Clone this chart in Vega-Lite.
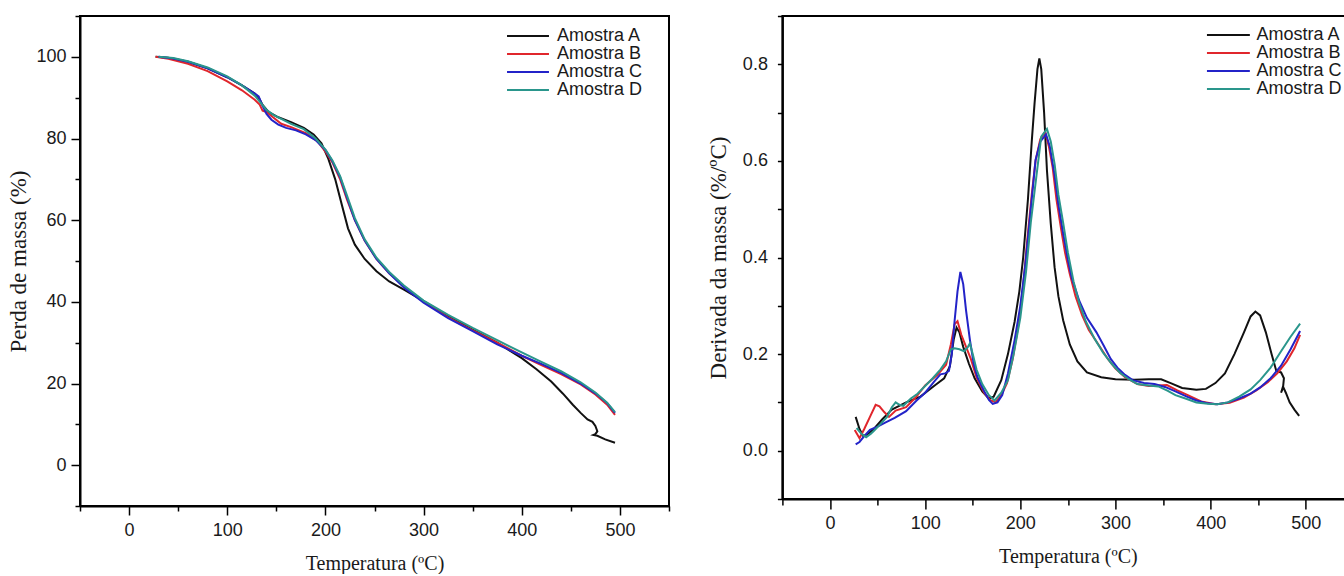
{
"$schema": "https://vega.github.io/schema/vega-lite/v6.json",
"background": "white",
"padding": {"left": 6, "top": 14, "right": -5, "bottom": 0},
"config": {
  "view": {"stroke": "black", "strokeWidth": 2},
  "axis": {"grid": false, "domainColor": "black", "domainWidth": 2, "tickColor": "black", "tickWidth": 1.5,
    "labelFont": "Liberation Sans", "labelFontSize": 18, "labelColor": "#1a1a1a",
    "titleFont": "Liberation Serif", "titleFontWeight": "normal", "titleColor": "#1a1a1a"},
  "legend": {"titleFontSize": 0}
},
"datasets": {
"tg": [
{"s":"Amostra A","i":0,"t":27,"m":100},{"s":"Amostra A","i":1,"t":40,"m":99.8},{"s":"Amostra A","i":2,"t":60,"m":98.8},{"s":"Amostra A","i":3,"t":80,"m":97.2},{"s":"Amostra A","i":4,"t":100,"m":95},{"s":"Amostra A","i":5,"t":115,"m":93},{"s":"Amostra A","i":6,"t":128,"m":91},{"s":"Amostra A","i":7,"t":132,"m":90},{"s":"Amostra A","i":8,"t":136,"m":88.2},{"s":"Amostra A","i":9,"t":142,"m":86.5},{"s":"Amostra A","i":10,"t":152,"m":85.2},{"s":"Amostra A","i":11,"t":165,"m":84},{"s":"Amostra A","i":12,"t":178,"m":82.6},{"s":"Amostra A","i":13,"t":188,"m":81},{"s":"Amostra A","i":14,"t":196,"m":78.8},{"s":"Amostra A","i":15,"t":203,"m":75},{"s":"Amostra A","i":16,"t":210,"m":70},{"s":"Amostra A","i":17,"t":217,"m":63.5},{"s":"Amostra A","i":18,"t":223,"m":58},{"s":"Amostra A","i":19,"t":230,"m":54},{"s":"Amostra A","i":20,"t":240,"m":50.5},{"s":"Amostra A","i":21,"t":252,"m":47.5},{"s":"Amostra A","i":22,"t":265,"m":45},{"s":"Amostra A","i":23,"t":280,"m":43},{"s":"Amostra A","i":24,"t":300,"m":40.2},{"s":"Amostra A","i":25,"t":325,"m":36.5},{"s":"Amostra A","i":26,"t":350,"m":33.2},{"s":"Amostra A","i":27,"t":375,"m":30},{"s":"Amostra A","i":28,"t":400,"m":26.2},{"s":"Amostra A","i":29,"t":415,"m":23.5},{"s":"Amostra A","i":30,"t":430,"m":20.5},{"s":"Amostra A","i":31,"t":442,"m":17.5},{"s":"Amostra A","i":32,"t":452,"m":14.8},{"s":"Amostra A","i":33,"t":460,"m":12.8},{"s":"Amostra A","i":34,"t":467,"m":11.2},{"s":"Amostra A","i":35,"t":472,"m":10.6},{"s":"Amostra A","i":36,"t":475,"m":9.6},{"s":"Amostra A","i":37,"t":477,"m":8.3},{"s":"Amostra A","i":38,"t":475,"m":7.6},{"s":"Amostra A","i":39,"t":473,"m":7.4},{"s":"Amostra A","i":40,"t":477,"m":7.2},{"s":"Amostra A","i":41,"t":485,"m":6.3},{"s":"Amostra A","i":42,"t":495,"m":5.5},
{"s":"Amostra B","i":0,"t":27,"m":100},{"s":"Amostra B","i":1,"t":40,"m":99.5},{"s":"Amostra B","i":2,"t":60,"m":98.3},{"s":"Amostra B","i":3,"t":80,"m":96.5},{"s":"Amostra B","i":4,"t":100,"m":94},{"s":"Amostra B","i":5,"t":115,"m":91.8},{"s":"Amostra B","i":6,"t":128,"m":89.5},{"s":"Amostra B","i":7,"t":133,"m":88.3},{"s":"Amostra B","i":8,"t":136,"m":86.8},{"s":"Amostra B","i":9,"t":140,"m":86.5},{"s":"Amostra B","i":10,"t":145,"m":85.5},{"s":"Amostra B","i":11,"t":155,"m":83.6},{"s":"Amostra B","i":12,"t":165,"m":82.8},{"s":"Amostra B","i":13,"t":180,"m":81.3},{"s":"Amostra B","i":14,"t":192,"m":79.3},{"s":"Amostra B","i":15,"t":200,"m":76.8},{"s":"Amostra B","i":16,"t":207,"m":74.2},{"s":"Amostra B","i":17,"t":215,"m":70},{"s":"Amostra B","i":18,"t":222,"m":65},{"s":"Amostra B","i":19,"t":230,"m":60},{"s":"Amostra B","i":20,"t":240,"m":55},{"s":"Amostra B","i":21,"t":252,"m":50.5},{"s":"Amostra B","i":22,"t":265,"m":47},{"s":"Amostra B","i":23,"t":280,"m":43.8},{"s":"Amostra B","i":24,"t":300,"m":40},{"s":"Amostra B","i":25,"t":325,"m":36.2},{"s":"Amostra B","i":26,"t":350,"m":33},{"s":"Amostra B","i":27,"t":375,"m":30},{"s":"Amostra B","i":28,"t":400,"m":26.8},{"s":"Amostra B","i":29,"t":420,"m":24.5},{"s":"Amostra B","i":30,"t":440,"m":22.3},{"s":"Amostra B","i":31,"t":460,"m":19.8},{"s":"Amostra B","i":32,"t":475,"m":17.3},{"s":"Amostra B","i":33,"t":487,"m":14.8},{"s":"Amostra B","i":34,"t":495,"m":12.3},
{"s":"Amostra C","i":0,"t":30,"m":100},{"s":"Amostra C","i":1,"t":45,"m":99.6},{"s":"Amostra C","i":2,"t":60,"m":98.8},{"s":"Amostra C","i":3,"t":80,"m":97.2},{"s":"Amostra C","i":4,"t":100,"m":95},{"s":"Amostra C","i":5,"t":115,"m":93},{"s":"Amostra C","i":6,"t":128,"m":91},{"s":"Amostra C","i":7,"t":132,"m":90.3},{"s":"Amostra C","i":8,"t":136,"m":88},{"s":"Amostra C","i":9,"t":140,"m":86},{"s":"Amostra C","i":10,"t":145,"m":84.6},{"s":"Amostra C","i":11,"t":152,"m":83.4},{"s":"Amostra C","i":12,"t":160,"m":82.6},{"s":"Amostra C","i":13,"t":170,"m":82},{"s":"Amostra C","i":14,"t":180,"m":81},{"s":"Amostra C","i":15,"t":190,"m":79.6},{"s":"Amostra C","i":16,"t":200,"m":77.2},{"s":"Amostra C","i":17,"t":207,"m":74.5},{"s":"Amostra C","i":18,"t":215,"m":70.5},{"s":"Amostra C","i":19,"t":222,"m":65.5},{"s":"Amostra C","i":20,"t":230,"m":60},{"s":"Amostra C","i":21,"t":240,"m":55},{"s":"Amostra C","i":22,"t":252,"m":50.5},{"s":"Amostra C","i":23,"t":265,"m":47},{"s":"Amostra C","i":24,"t":280,"m":43.5},{"s":"Amostra C","i":25,"t":300,"m":39.8},{"s":"Amostra C","i":26,"t":325,"m":36},{"s":"Amostra C","i":27,"t":350,"m":32.8},{"s":"Amostra C","i":28,"t":375,"m":29.6},{"s":"Amostra C","i":29,"t":400,"m":26.8},{"s":"Amostra C","i":30,"t":420,"m":24.8},{"s":"Amostra C","i":31,"t":440,"m":22.6},{"s":"Amostra C","i":32,"t":460,"m":20},{"s":"Amostra C","i":33,"t":475,"m":17.6},{"s":"Amostra C","i":34,"t":487,"m":15.2},{"s":"Amostra C","i":35,"t":495,"m":12.8},
{"s":"Amostra D","i":0,"t":30,"m":100},{"s":"Amostra D","i":1,"t":45,"m":99.7},{"s":"Amostra D","i":2,"t":60,"m":98.9},{"s":"Amostra D","i":3,"t":80,"m":97.4},{"s":"Amostra D","i":4,"t":100,"m":95.2},{"s":"Amostra D","i":5,"t":115,"m":93},{"s":"Amostra D","i":6,"t":128,"m":90.5},{"s":"Amostra D","i":7,"t":135,"m":88.5},{"s":"Amostra D","i":8,"t":140,"m":87},{"s":"Amostra D","i":9,"t":147,"m":85.8},{"s":"Amostra D","i":10,"t":155,"m":84.8},{"s":"Amostra D","i":11,"t":165,"m":83.6},{"s":"Amostra D","i":12,"t":178,"m":82.3},{"s":"Amostra D","i":13,"t":190,"m":80},{"s":"Amostra D","i":14,"t":200,"m":77.3},{"s":"Amostra D","i":15,"t":207,"m":74.7},{"s":"Amostra D","i":16,"t":215,"m":70.8},{"s":"Amostra D","i":17,"t":222,"m":66},{"s":"Amostra D","i":18,"t":230,"m":60.5},{"s":"Amostra D","i":19,"t":240,"m":55.3},{"s":"Amostra D","i":20,"t":252,"m":50.8},{"s":"Amostra D","i":21,"t":265,"m":47.3},{"s":"Amostra D","i":22,"t":280,"m":44},{"s":"Amostra D","i":23,"t":300,"m":40.3},{"s":"Amostra D","i":24,"t":325,"m":36.8},{"s":"Amostra D","i":25,"t":350,"m":33.6},{"s":"Amostra D","i":26,"t":375,"m":30.6},{"s":"Amostra D","i":27,"t":400,"m":27.6},{"s":"Amostra D","i":28,"t":420,"m":25.3},{"s":"Amostra D","i":29,"t":440,"m":23},{"s":"Amostra D","i":30,"t":460,"m":20.3},{"s":"Amostra D","i":31,"t":475,"m":17.8},{"s":"Amostra D","i":32,"t":487,"m":15.3},{"s":"Amostra D","i":33,"t":495,"m":13}
],
"dtg": [
{"s":"Amostra A","i":0,"t":27,"d":0.07},{"s":"Amostra A","i":1,"t":31,"d":0.045},{"s":"Amostra A","i":2,"t":35,"d":0.03},{"s":"Amostra A","i":3,"t":40,"d":0.035},{"s":"Amostra A","i":4,"t":47,"d":0.047},{"s":"Amostra A","i":5,"t":55,"d":0.065},{"s":"Amostra A","i":6,"t":65,"d":0.085},{"s":"Amostra A","i":7,"t":80,"d":0.1},{"s":"Amostra A","i":8,"t":95,"d":0.112},{"s":"Amostra A","i":9,"t":110,"d":0.135},{"s":"Amostra A","i":10,"t":120,"d":0.15},{"s":"Amostra A","i":11,"t":126,"d":0.175},{"s":"Amostra A","i":12,"t":130,"d":0.23},{"s":"Amostra A","i":13,"t":133,"d":0.255},{"s":"Amostra A","i":14,"t":136,"d":0.245},{"s":"Amostra A","i":15,"t":140,"d":0.215},{"s":"Amostra A","i":16,"t":146,"d":0.18},{"s":"Amostra A","i":17,"t":152,"d":0.15},{"s":"Amostra A","i":18,"t":160,"d":0.123},{"s":"Amostra A","i":19,"t":167,"d":0.108},{"s":"Amostra A","i":20,"t":172,"d":0.112},{"s":"Amostra A","i":21,"t":180,"d":0.146},{"s":"Amostra A","i":22,"t":187,"d":0.2},{"s":"Amostra A","i":23,"t":194,"d":0.267},{"s":"Amostra A","i":24,"t":199,"d":0.33},{"s":"Amostra A","i":25,"t":203,"d":0.4},{"s":"Amostra A","i":26,"t":208,"d":0.52},{"s":"Amostra A","i":27,"t":212,"d":0.64},{"s":"Amostra A","i":28,"t":215,"d":0.72},{"s":"Amostra A","i":29,"t":218,"d":0.79},{"s":"Amostra A","i":30,"t":220,"d":0.812},{"s":"Amostra A","i":31,"t":222,"d":0.79},{"s":"Amostra A","i":32,"t":225,"d":0.7},{"s":"Amostra A","i":33,"t":228,"d":0.58},{"s":"Amostra A","i":34,"t":232,"d":0.47},{"s":"Amostra A","i":35,"t":236,"d":0.38},{"s":"Amostra A","i":36,"t":240,"d":0.32},{"s":"Amostra A","i":37,"t":245,"d":0.27},{"s":"Amostra A","i":38,"t":252,"d":0.22},{"s":"Amostra A","i":39,"t":260,"d":0.185},{"s":"Amostra A","i":40,"t":270,"d":0.162},{"s":"Amostra A","i":41,"t":285,"d":0.152},{"s":"Amostra A","i":42,"t":300,"d":0.148},{"s":"Amostra A","i":43,"t":320,"d":0.147},{"s":"Amostra A","i":44,"t":335,"d":0.148},{"s":"Amostra A","i":45,"t":348,"d":0.148},{"s":"Amostra A","i":46,"t":358,"d":0.14},{"s":"Amostra A","i":47,"t":370,"d":0.13},{"s":"Amostra A","i":48,"t":385,"d":0.126},{"s":"Amostra A","i":49,"t":395,"d":0.128},{"s":"Amostra A","i":50,"t":405,"d":0.14},{"s":"Amostra A","i":51,"t":415,"d":0.16},{"s":"Amostra A","i":52,"t":425,"d":0.2},{"s":"Amostra A","i":53,"t":435,"d":0.245},{"s":"Amostra A","i":54,"t":442,"d":0.278},{"s":"Amostra A","i":55,"t":447,"d":0.288},{"s":"Amostra A","i":56,"t":452,"d":0.28},{"s":"Amostra A","i":57,"t":458,"d":0.245},{"s":"Amostra A","i":58,"t":464,"d":0.2},{"s":"Amostra A","i":59,"t":469,"d":0.165},{"s":"Amostra A","i":60,"t":474,"d":0.162},{"s":"Amostra A","i":61,"t":477,"d":0.15},{"s":"Amostra A","i":62,"t":476,"d":0.13},{"s":"Amostra A","i":63,"t":474,"d":0.12},{"s":"Amostra A","i":64,"t":476,"d":0.133},{"s":"Amostra A","i":65,"t":479,"d":0.12},{"s":"Amostra A","i":66,"t":483,"d":0.1},{"s":"Amostra A","i":67,"t":488,"d":0.085},{"s":"Amostra A","i":68,"t":493,"d":0.072},
{"s":"Amostra B","i":0,"t":26,"d":0.043},{"s":"Amostra B","i":1,"t":31,"d":0.026},{"s":"Amostra B","i":2,"t":36,"d":0.045},{"s":"Amostra B","i":3,"t":42,"d":0.07},{"s":"Amostra B","i":4,"t":48,"d":0.095},{"s":"Amostra B","i":5,"t":52,"d":0.092},{"s":"Amostra B","i":6,"t":57,"d":0.08},{"s":"Amostra B","i":7,"t":62,"d":0.07},{"s":"Amostra B","i":8,"t":69,"d":0.083},{"s":"Amostra B","i":9,"t":80,"d":0.09},{"s":"Amostra B","i":10,"t":90,"d":0.11},{"s":"Amostra B","i":11,"t":100,"d":0.135},{"s":"Amostra B","i":12,"t":113,"d":0.157},{"s":"Amostra B","i":13,"t":122,"d":0.178},{"s":"Amostra B","i":14,"t":127,"d":0.22},{"s":"Amostra B","i":15,"t":131,"d":0.262},{"s":"Amostra B","i":16,"t":134,"d":0.268},{"s":"Amostra B","i":17,"t":138,"d":0.24},{"s":"Amostra B","i":18,"t":143,"d":0.215},{"s":"Amostra B","i":19,"t":148,"d":0.19},{"s":"Amostra B","i":20,"t":154,"d":0.152},{"s":"Amostra B","i":21,"t":162,"d":0.12},{"s":"Amostra B","i":22,"t":168,"d":0.105},{"s":"Amostra B","i":23,"t":174,"d":0.1},{"s":"Amostra B","i":24,"t":180,"d":0.115},{"s":"Amostra B","i":25,"t":186,"d":0.14},{"s":"Amostra B","i":26,"t":192,"d":0.19},{"s":"Amostra B","i":27,"t":198,"d":0.26},{"s":"Amostra B","i":28,"t":203,"d":0.34},{"s":"Amostra B","i":29,"t":207,"d":0.43},{"s":"Amostra B","i":30,"t":212,"d":0.53},{"s":"Amostra B","i":31,"t":216,"d":0.6},{"s":"Amostra B","i":32,"t":221,"d":0.645},{"s":"Amostra B","i":33,"t":226,"d":0.66},{"s":"Amostra B","i":34,"t":230,"d":0.63},{"s":"Amostra B","i":35,"t":234,"d":0.586},{"s":"Amostra B","i":36,"t":238,"d":0.52},{"s":"Amostra B","i":37,"t":243,"d":0.457},{"s":"Amostra B","i":38,"t":247,"d":0.41},{"s":"Amostra B","i":39,"t":252,"d":0.366},{"s":"Amostra B","i":40,"t":258,"d":0.32},{"s":"Amostra B","i":41,"t":265,"d":0.28},{"s":"Amostra B","i":42,"t":272,"d":0.25},{"s":"Amostra B","i":43,"t":280,"d":0.226},{"s":"Amostra B","i":44,"t":292,"d":0.19},{"s":"Amostra B","i":45,"t":300,"d":0.17},{"s":"Amostra B","i":46,"t":310,"d":0.152},{"s":"Amostra B","i":47,"t":323,"d":0.138},{"s":"Amostra B","i":48,"t":335,"d":0.134},{"s":"Amostra B","i":49,"t":345,"d":0.135},{"s":"Amostra B","i":50,"t":354,"d":0.136},{"s":"Amostra B","i":51,"t":365,"d":0.125},{"s":"Amostra B","i":52,"t":376,"d":0.115},{"s":"Amostra B","i":53,"t":390,"d":0.102},{"s":"Amostra B","i":54,"t":405,"d":0.096},{"s":"Amostra B","i":55,"t":420,"d":0.099},{"s":"Amostra B","i":56,"t":435,"d":0.11},{"s":"Amostra B","i":57,"t":448,"d":0.125},{"s":"Amostra B","i":58,"t":460,"d":0.142},{"s":"Amostra B","i":59,"t":470,"d":0.16},{"s":"Amostra B","i":60,"t":480,"d":0.185},{"s":"Amostra B","i":61,"t":488,"d":0.212},{"s":"Amostra B","i":62,"t":494,"d":0.24},
{"s":"Amostra C","i":0,"t":27,"d":0.013},{"s":"Amostra C","i":1,"t":31,"d":0.018},{"s":"Amostra C","i":2,"t":36,"d":0.03},{"s":"Amostra C","i":3,"t":42,"d":0.043},{"s":"Amostra C","i":4,"t":50,"d":0.05},{"s":"Amostra C","i":5,"t":58,"d":0.058},{"s":"Amostra C","i":6,"t":68,"d":0.068},{"s":"Amostra C","i":7,"t":80,"d":0.082},{"s":"Amostra C","i":8,"t":91,"d":0.104},{"s":"Amostra C","i":9,"t":100,"d":0.12},{"s":"Amostra C","i":10,"t":109,"d":0.142},{"s":"Amostra C","i":11,"t":116,"d":0.158},{"s":"Amostra C","i":12,"t":121,"d":0.16},{"s":"Amostra C","i":13,"t":125,"d":0.165},{"s":"Amostra C","i":14,"t":128,"d":0.2},{"s":"Amostra C","i":15,"t":131,"d":0.27},{"s":"Amostra C","i":16,"t":134,"d":0.33},{"s":"Amostra C","i":17,"t":137,"d":0.37},{"s":"Amostra C","i":18,"t":140,"d":0.345},{"s":"Amostra C","i":19,"t":143,"d":0.29},{"s":"Amostra C","i":20,"t":147,"d":0.23},{"s":"Amostra C","i":21,"t":151,"d":0.18},{"s":"Amostra C","i":22,"t":155,"d":0.152},{"s":"Amostra C","i":23,"t":162,"d":0.123},{"s":"Amostra C","i":24,"t":167,"d":0.105},{"s":"Amostra C","i":25,"t":171,"d":0.097},{"s":"Amostra C","i":26,"t":176,"d":0.1},{"s":"Amostra C","i":27,"t":181,"d":0.115},{"s":"Amostra C","i":28,"t":187,"d":0.16},{"s":"Amostra C","i":29,"t":194,"d":0.229},{"s":"Amostra C","i":30,"t":200,"d":0.3},{"s":"Amostra C","i":31,"t":205,"d":0.381},{"s":"Amostra C","i":32,"t":210,"d":0.48},{"s":"Amostra C","i":33,"t":216,"d":0.602},{"s":"Amostra C","i":34,"t":221,"d":0.64},{"s":"Amostra C","i":35,"t":227,"d":0.655},{"s":"Amostra C","i":36,"t":231,"d":0.63},{"s":"Amostra C","i":37,"t":236,"d":0.571},{"s":"Amostra C","i":38,"t":240,"d":0.51},{"s":"Amostra C","i":39,"t":245,"d":0.45},{"s":"Amostra C","i":40,"t":250,"d":0.395},{"s":"Amostra C","i":41,"t":254,"d":0.358},{"s":"Amostra C","i":42,"t":262,"d":0.31},{"s":"Amostra C","i":43,"t":270,"d":0.275},{"s":"Amostra C","i":44,"t":280,"d":0.245},{"s":"Amostra C","i":45,"t":287,"d":0.22},{"s":"Amostra C","i":46,"t":295,"d":0.19},{"s":"Amostra C","i":47,"t":302,"d":0.172},{"s":"Amostra C","i":48,"t":310,"d":0.157},{"s":"Amostra C","i":49,"t":318,"d":0.146},{"s":"Amostra C","i":50,"t":330,"d":0.14},{"s":"Amostra C","i":51,"t":341,"d":0.138},{"s":"Amostra C","i":52,"t":352,"d":0.132},{"s":"Amostra C","i":53,"t":363,"d":0.123},{"s":"Amostra C","i":54,"t":375,"d":0.112},{"s":"Amostra C","i":55,"t":385,"d":0.104},{"s":"Amostra C","i":56,"t":397,"d":0.098},{"s":"Amostra C","i":57,"t":407,"d":0.096},{"s":"Amostra C","i":58,"t":418,"d":0.1},{"s":"Amostra C","i":59,"t":430,"d":0.108},{"s":"Amostra C","i":60,"t":442,"d":0.118},{"s":"Amostra C","i":61,"t":452,"d":0.131},{"s":"Amostra C","i":62,"t":463,"d":0.15},{"s":"Amostra C","i":63,"t":474,"d":0.176},{"s":"Amostra C","i":64,"t":484,"d":0.21},{"s":"Amostra C","i":65,"t":494,"d":0.248},
{"s":"Amostra D","i":0,"t":28,"d":0.047},{"s":"Amostra D","i":1,"t":33,"d":0.035},{"s":"Amostra D","i":2,"t":38,"d":0.028},{"s":"Amostra D","i":3,"t":43,"d":0.035},{"s":"Amostra D","i":4,"t":47,"d":0.043},{"s":"Amostra D","i":5,"t":53,"d":0.055},{"s":"Amostra D","i":6,"t":60,"d":0.07},{"s":"Amostra D","i":7,"t":65,"d":0.09},{"s":"Amostra D","i":8,"t":69,"d":0.1},{"s":"Amostra D","i":9,"t":73,"d":0.095},{"s":"Amostra D","i":10,"t":77,"d":0.093},{"s":"Amostra D","i":11,"t":85,"d":0.108},{"s":"Amostra D","i":12,"t":92,"d":0.118},{"s":"Amostra D","i":13,"t":100,"d":0.134},{"s":"Amostra D","i":14,"t":108,"d":0.15},{"s":"Amostra D","i":15,"t":116,"d":0.168},{"s":"Amostra D","i":16,"t":122,"d":0.185},{"s":"Amostra D","i":17,"t":127,"d":0.21},{"s":"Amostra D","i":18,"t":131,"d":0.212},{"s":"Amostra D","i":19,"t":136,"d":0.21},{"s":"Amostra D","i":20,"t":141,"d":0.206},{"s":"Amostra D","i":21,"t":145,"d":0.215},{"s":"Amostra D","i":22,"t":147,"d":0.222},{"s":"Amostra D","i":23,"t":150,"d":0.2},{"s":"Amostra D","i":24,"t":154,"d":0.168},{"s":"Amostra D","i":25,"t":160,"d":0.138},{"s":"Amostra D","i":26,"t":167,"d":0.115},{"s":"Amostra D","i":27,"t":173,"d":0.104},{"s":"Amostra D","i":28,"t":180,"d":0.12},{"s":"Amostra D","i":29,"t":187,"d":0.146},{"s":"Amostra D","i":30,"t":193,"d":0.2},{"s":"Amostra D","i":31,"t":200,"d":0.275},{"s":"Amostra D","i":32,"t":206,"d":0.37},{"s":"Amostra D","i":33,"t":211,"d":0.472},{"s":"Amostra D","i":34,"t":217,"d":0.57},{"s":"Amostra D","i":35,"t":222,"d":0.65},{"s":"Amostra D","i":36,"t":228,"d":0.666},{"s":"Amostra D","i":37,"t":232,"d":0.64},{"s":"Amostra D","i":38,"t":236,"d":0.594},{"s":"Amostra D","i":39,"t":240,"d":0.53},{"s":"Amostra D","i":40,"t":245,"d":0.472},{"s":"Amostra D","i":41,"t":250,"d":0.41},{"s":"Amostra D","i":42,"t":256,"d":0.35},{"s":"Amostra D","i":43,"t":262,"d":0.305},{"s":"Amostra D","i":44,"t":269,"d":0.267},{"s":"Amostra D","i":45,"t":278,"d":0.232},{"s":"Amostra D","i":46,"t":287,"d":0.203},{"s":"Amostra D","i":47,"t":296,"d":0.18},{"s":"Amostra D","i":48,"t":305,"d":0.161},{"s":"Amostra D","i":49,"t":314,"d":0.148},{"s":"Amostra D","i":50,"t":323,"d":0.138},{"s":"Amostra D","i":51,"t":335,"d":0.135},{"s":"Amostra D","i":52,"t":345,"d":0.133},{"s":"Amostra D","i":53,"t":355,"d":0.124},{"s":"Amostra D","i":54,"t":363,"d":0.115},{"s":"Amostra D","i":55,"t":375,"d":0.107},{"s":"Amostra D","i":56,"t":385,"d":0.1},{"s":"Amostra D","i":57,"t":397,"d":0.097},{"s":"Amostra D","i":58,"t":407,"d":0.096},{"s":"Amostra D","i":59,"t":418,"d":0.1},{"s":"Amostra D","i":60,"t":430,"d":0.112},{"s":"Amostra D","i":61,"t":442,"d":0.127},{"s":"Amostra D","i":62,"t":452,"d":0.146},{"s":"Amostra D","i":63,"t":463,"d":0.172},{"s":"Amostra D","i":64,"t":474,"d":0.206},{"s":"Amostra D","i":65,"t":484,"d":0.236},{"s":"Amostra D","i":66,"t":494,"d":0.263}
]
},
"spacing": 113.4,
"bounds": "flush",
"resolve": {"scale": {"color": "independent"}, "legend": {"color": "independent"}},
"hconcat": [
{
  "width": 589, "height": 490,
  "data": {"name": "tg"},
  "mark": {"type": "line", "strokeWidth": 2},
  "encoding": {
    "x": {"field": "t", "type": "quantitative", "scale": {"domain": [-50, 550], "nice": false, "zero": false},
      "axis": {"values": [-50,0,50,100,150,200,250,300,350,400,450,500,550],
        "labelExpr": "datum.value % 100 === 0 && datum.value >= 0 && datum.value <= 500 ? datum.label : ''",
        "tickSize": {"condition": {"test": "datum.value % 100 === 0", "value": 9}, "value": 5},
        "labelPadding": 6, "title": "Temperatura (ºC)", "titleFontSize": 20, "titlePadding": 14}},
    "y": {"field": "m", "type": "quantitative", "scale": {"domain": [-10, 110], "nice": false, "zero": false},
      "axis": {"values": [-10,0,10,20,30,40,50,60,70,80,90,100,110],
        "labelExpr": "datum.value % 20 === 0 && datum.value >= 0 && datum.value <= 100 ? datum.label : ''",
        "tickSize": {"condition": {"test": "datum.value % 20 === 0", "value": 9}, "value": 5},
        "labelPadding": 5, "title": "Perda de massa (%)", "titleFontSize": 23, "titlePadding": 5}},
    "color": {"field": "s", "type": "nominal",
      "scale": {"domain": ["Amostra A","Amostra B","Amostra C","Amostra D"], "range": ["#111111","#e0262c","#2323c8","#2a968c"]},
      "legend": {"orient": "none", "legendX": 439, "legendY": 11, "title": null, "symbolType": "M-4,0H4", "symbolSize": 110,
        "symbolStrokeWidth": 2, "symbolFillColor": "transparent", "labelFont": "Liberation Sans", "labelFontSize": 18, "labelColor": "#1a1a1a",
        "labelOffset": 20, "rowPadding": -1, "padding": 0}},
    "order": {"field": "i", "type": "quantitative"}
  }
},
{
  "width": 571, "height": 483,
  "data": {"name": "dtg"},
  "mark": {"type": "line", "strokeWidth": 2},
  "encoding": {
    "x": {"field": "t", "type": "quantitative", "scale": {"domain": [-50, 550], "nice": false, "zero": false},
      "axis": {"values": [-50,0,50,100,150,200,250,300,350,400,450,500,550],
        "labelExpr": "datum.value % 100 === 0 && datum.value >= 0 && datum.value <= 500 ? datum.label : ''",
        "tickSize": {"condition": {"test": "datum.value % 100 === 0", "value": 10}, "value": 6},
        "labelPadding": 5, "title": "Temperatura (ºC)", "titleFontSize": 20, "titlePadding": 14}},
    "y": {"field": "d", "type": "quantitative", "scale": {"domain": [-0.1, 0.9], "nice": false, "zero": false},
      "axis": {"values": [-0.1,0,0.1,0.2,0.3,0.4,0.5,0.6,0.7,0.8,0.9],
        "labelExpr": "abs(round(datum.value*10)) % 2 === 0 && datum.value > -0.05 && datum.value < 0.85 ? format(datum.value, '.1f') : ''",
        "tickSize": 5,
        "labelPadding": 10, "title": "Derivada da massa (%/ºC)", "titleFontSize": 23, "titlePadding": 12}},
    "color": {"field": "s", "type": "nominal",
      "scale": {"domain": ["Amostra A","Amostra B","Amostra C","Amostra D"], "range": ["#111111","#e0262c","#2323c8","#2a968c"]},
      "legend": {"orient": "none", "legendX": 437, "legendY": 10, "title": null, "symbolType": "M-4,0H4", "symbolSize": 115,
        "symbolStrokeWidth": 2, "symbolFillColor": "transparent", "labelFont": "Liberation Sans", "labelFontSize": 18, "labelColor": "#1a1a1a",
        "labelOffset": 19, "rowPadding": -1, "padding": 0}},
    "order": {"field": "i", "type": "quantitative"}
  }
}
]
}
